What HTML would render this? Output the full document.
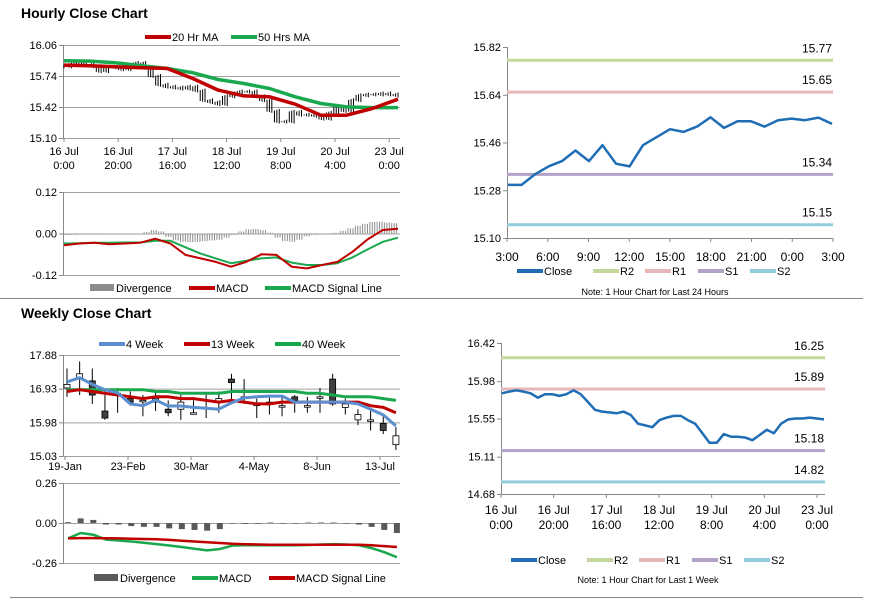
<!DOCTYPE html>
<html><head><meta charset="utf-8"><style>
body{margin:0;background:#fff;}
svg{display:block;font-family:"Liberation Sans",Arial,sans-serif;}
</style></head><body>
<svg id="s" width="873" height="601" viewBox="0 0 873 601">
<text x="21" y="18" font-size="14" font-weight="bold">Hourly Close Chart</text>
<text x="21" y="318" font-size="14" font-weight="bold">Weekly Close Chart</text>
<line x1="0" y1="298.5" x2="863" y2="298.5" stroke="#888"/>
<line x1="10" y1="597.5" x2="863" y2="597.5" stroke="#888"/>
</svg>
<script>
// ---------- data ----------
const hourlyClose=[15.84,15.86,15.875,15.86,15.84,15.79,15.83,15.83,15.81,15.83,15.875,15.83,15.74,15.65,15.63,15.62,15.61,15.63,15.59,15.49,15.47,15.45,15.53,15.56,15.58,15.58,15.53,15.49,15.38,15.27,15.27,15.37,15.34,15.34,15.33,15.30,15.36,15.42,15.38,15.49,15.54,15.55,15.55,15.56,15.55,15.54];
const ma20=[15.853,15.846,15.836,15.825,15.818,15.715,15.594,15.535,15.525,15.449,15.335,15.335,15.404,15.50];
const ma50=[15.898,15.894,15.877,15.846,15.818,15.774,15.704,15.663,15.611,15.525,15.456,15.421,15.414,15.414];
const hMacd=[-0.034,-0.029,-0.027,-0.031,-0.029,-0.027,-0.015,-0.029,-0.062,-0.072,-0.082,-0.096,-0.082,-0.060,-0.062,-0.096,-0.101,-0.091,-0.082,-0.053,-0.017,0.010,0.014];
const hSignal=[-0.029,-0.028,-0.027,-0.027,-0.026,-0.026,-0.021,-0.021,-0.040,-0.058,-0.072,-0.086,-0.079,-0.072,-0.069,-0.084,-0.091,-0.091,-0.086,-0.069,-0.046,-0.024,-0.012];
const hDiv=[-0.004,-0.004,-0.003,-0.003,-0.003,-0.003,-0.003,-0.002,-0.002,-0.002,-0.002,0.004,0.010,0.006,-0.010,-0.020,-0.024,-0.025,-0.024,-0.022,-0.020,-0.018,-0.012,-0.004,0.006,0.012,0.013,0.010,0.002,-0.012,-0.022,-0.024,-0.018,-0.008,-0.004,-0.003,-0.002,0.002,0.008,0.015,0.022,0.028,0.033,0.034,0.032,0.030];
const hourTicks=["16 Jul|0:00","16 Jul|20:00","17 Jul|16:00","18 Jul|12:00","19 Jul|8:00","20 Jul|4:00","23 Jul|0:00"];
const dayClose=[15.30,15.30,15.34,15.37,15.39,15.43,15.39,15.45,15.38,15.37,15.45,15.48,15.51,15.50,15.52,15.555,15.515,15.54,15.54,15.52,15.544,15.55,15.544,15.554,15.53];
const dayTicks=["3:00","6:00","9:00","12:00","15:00","18:00","21:00","0:00","3:00"];
const dayLevels=[15.77,15.65,15.34,15.15];
const weekLevels=[16.25,15.89,15.18,14.82];
const wOpen=[16.95,17.20,17.15,16.30,16.80,16.65,16.60,16.55,16.35,16.35,16.25,16.40,16.55,17.20,16.70,16.45,16.55,16.45,16.70,16.45,16.70,17.20,16.40,16.05,16.05,15.95,15.35];
const wClose=[17.05,17.35,16.75,16.10,16.80,16.55,16.60,16.65,16.25,16.55,16.25,16.40,16.65,17.10,16.70,16.50,16.55,16.45,16.60,16.45,16.70,16.50,16.50,16.20,16.05,15.75,15.60];
const wHigh=[17.50,17.70,17.50,16.90,16.95,16.85,16.75,16.85,16.60,16.75,16.60,16.80,16.85,17.35,17.20,16.65,16.70,16.75,16.75,16.70,16.95,17.35,16.65,16.35,16.30,16.15,15.85];
const wLow=[16.70,16.75,16.50,16.05,16.25,16.45,16.15,16.30,16.15,16.05,16.20,16.10,16.25,16.55,16.50,16.10,16.20,16.15,16.25,16.25,16.25,16.45,16.20,15.90,15.75,15.65,15.20];
const w4=[17.12,17.24,17.05,16.90,16.81,16.50,16.45,16.61,16.44,16.44,16.40,16.38,16.35,16.53,16.67,16.70,16.72,16.72,16.55,16.55,16.55,16.55,16.55,16.50,16.35,16.19,15.88];
const w13=[16.85,16.90,16.85,16.80,16.75,16.70,16.65,16.70,16.70,16.65,16.65,16.60,16.55,16.60,16.55,16.50,16.50,16.55,16.55,16.55,16.55,16.55,16.55,16.55,16.45,16.40,16.25];
const w40=[16.90,16.90,16.90,16.90,16.90,16.90,16.90,16.85,16.85,16.80,16.80,16.80,16.80,16.85,16.85,16.85,16.85,16.85,16.85,16.80,16.80,16.75,16.70,16.70,16.70,16.65,16.60];
const wDiv=[0.005,0.030,0.020,-0.010,-0.010,-0.020,-0.025,-0.025,-0.035,-0.040,-0.045,-0.050,-0.040,-0.003,-0.005,-0.005,0.003,0,0,0.003,0.003,0.003,-0.003,-0.010,-0.025,-0.045,-0.065];
const wMacd=[-0.100,-0.065,-0.076,-0.108,-0.114,-0.120,-0.128,-0.137,-0.146,-0.156,-0.167,-0.178,-0.169,-0.147,-0.145,-0.145,-0.145,-0.145,-0.145,-0.143,-0.140,-0.137,-0.140,-0.145,-0.163,-0.190,-0.222];
const wSignal=[-0.100,-0.098,-0.098,-0.099,-0.100,-0.102,-0.104,-0.106,-0.110,-0.115,-0.120,-0.125,-0.130,-0.135,-0.138,-0.140,-0.141,-0.141,-0.141,-0.141,-0.141,-0.141,-0.141,-0.142,-0.145,-0.150,-0.156];
const weekTicks=["19-Jan","23-Feb","30-Mar","4-May","8-Jun","13-Jul"];

const svg=document.getElementById('s');
const NS='http://www.w3.org/2000/svg';
function mk(tag,attrs,parent){const e=document.createElementNS(NS,tag);for(const k in attrs)e.setAttribute(k,attrs[k]);(parent||svg).appendChild(e);return e;}
function sc(d0,d1,r0,r1){return v=>r0+(v-d0)/(d1-d0)*(r1-r0);}
function txt(x,y,s,anchor,size,parent){const t=mk('text',{x:x,y:y,'font-size':size||11,'text-anchor':anchor||'start',fill:'#000'},parent);t.textContent=s;return t;}
function path(vals,xf,yf,color,w,parent){let d='';vals.forEach((v,i)=>{d+=(i?'L':'M')+xf(i).toFixed(1)+','+yf(v).toFixed(1);});return mk('path',{d:d,fill:'none',stroke:color,'stroke-width':w,'stroke-linejoin':'round'},parent);}
function yAxis(ticks,yf,x0,x1,grid,parent){
  ticks.forEach(t=>{
    if(grid){const g=mk('line',{x1:x0,x2:x1,y1:yf(t)+0.5,y2:yf(t)+0.5,stroke:'#a0a0a0'},parent);
      
      }
    mk('line',{x1:x0-4,x2:x0,y1:yf(t)+0.5,y2:yf(t)+0.5,stroke:'#888'},parent);
    const l=txt(x0-6,yf(t)+4,t.toFixed(2),'end',11,parent);
    
    
  });
}
function legendItem(x,y,color,label,parent,isBox){
  const g=mk('g',{},parent);
  
  
  if(isBox)mk('rect',{x:x,y:y-4,width:24,height:7,fill:color},g);
  else mk('line',{x1:x,x2:x+26,y1:y,y2:y,stroke:color,'stroke-width':4},g);
  txt(x+(isBox?26:27),y+4,label,'start',11,g);
}

// ---------- Hourly main chart ----------
(function(){
  const g=mk('g',{});
  
  
  const y=sc(15.10,16.06,138,45), X0=63,X1=400;
  yAxis([15.10,15.42,15.74,16.06],y,X0,X1,true,g);
  mk('line',{x1:X0+.5,x2:X0+.5,y1:45,y2:138,stroke:'#888'},g);
  const xc=i=>64+i*(334/(hourlyClose.length-1));
  hourlyClose.forEach((c,i)=>{
    const p=i?hourlyClose[i-1]:c;
    const hi=Math.max(p,c)+0.02, lo=Math.min(p,c)-0.02;
    for(let k=0;k<3;k++){
      const xx=xc(i)-k*2.4;
      if(xx<X0)continue;
      const b=mk('line',{x1:xx,x2:xx,y1:y(hi-k*0.008),y2:y(lo+k*0.006),stroke:'#000','stroke-width':1},g);
      
      
    }
  });
  const xm=i=>64+i*(334/(ma20.length-1));
  const l50=path(ma50,xm,y,'#1aa84f',3.5,g);
  
  
  const l20=path(ma20,xm,y,'#c00000',3.5,g);
  
  
  hourTicks.forEach((t,i)=>{const x=64+i*54.2;const p=t.split('|');
    mk('line',{x1:x,x2:x,y1:138,y2:142,stroke:'#888'},g);
    const a=txt(x,155,p[0],'middle',11,g);
    txt(x,169,p[1],'middle',11,g);});
  legendItem(145,37,'#c00000','20 Hr MA',g);
  legendItem(231,37,'#1aa84f','50 Hrs MA',g);
})();

// ---------- Hourly MACD ----------
(function(){
  const g=mk('g',{});
  
  
  const y=sc(-0.12,0.12,275,192), X0=63,X1=400;
  yAxis([-0.12,0,0.12],y,X0,X1,true,g);
  mk('line',{x1:X0+.5,x2:X0+.5,y1:192,y2:275,stroke:'#888'},g);
  const step=335/hDiv.length;
  hDiv.forEach((v,i)=>{for(let k=0;k<3;k++){const xx=64+i*step+k*step/3;
    const b=mk('line',{x1:xx,x2:xx,y1:y(0),y2:y(v),stroke:'#8c8c8c','stroke-width':1},g);
    
    }});
  const xm=i=>64+i*(334/(hMacd.length-1));
  const s=path(hSignal,xm,y,'#1aa84f',2,g);
  
  
  const m=path(hMacd,xm,y,'#c00000',2,g);
  
  
  legendItem(90,288,'#8c8c8c','Divergence',g,true);
  legendItem(189,288,'#c00000','MACD',g);
  legendItem(265,288,'#1aa84f','MACD Signal Line',g);
})();

// ---------- Right pivot charts ----------
function pivotChart(name,data,yMin,yMax,ticks,levels,X0,X1,Y0,Y1,xLabels,two,legY,note,noteY,labY){
  const g=mk('g',{});
  
  
  const y=sc(yMin,yMax,Y1,Y0);
  yAxis(ticks,y,X0,X1,false,g);
  mk('line',{x1:X0+.5,x2:X0+.5,y1:Y0,y2:Y1,stroke:'#888'},g);
  mk('line',{x1:X0,x2:X1,y1:Y1+.5,y2:Y1+.5,stroke:'#888'},g);
  const cols=['#c4d79b','#e6b8b7','#b3a2c7','#93cddd'];
  levels.forEach((v,i)=>{
    const l=mk('line',{x1:X0,x2:X1,y1:y(v),y2:y(v),stroke:cols[i],'stroke-width':3},g);
    
    
    const t=txt(X1-1,y(v)-8,v.toFixed(2),'end',12,g);
    
    
  });
  const xf=i=>X0+1+i*((X1-X0-2)/(data.length-1));
  const c=path(data,xf,y,'#1f6db4',2.5,g);
  
  
  xLabels.forEach((t,i)=>{const x=X0+i*((two?(X1-X0-8):(X1-X0))/(xLabels.length-1));
    mk('line',{x1:x,x2:x,y1:Y1,y2:Y1+4,stroke:'#888'},g);
    const p=t.split('|');
    const a=txt(x,labY,p[0],'middle',12,g);
    if(p[1])txt(x,labY+15,p[1],'middle',12,g);});
  legendItem(X0+10,legY,'#1f6db4','Close',g);
  legendItem(X0+86,legY,'#c4d79b','R2',g);
  legendItem(X0+138,legY,'#e6b8b7','R1',g);
  legendItem(X0+191,legY,'#b3a2c7','S1',g);
  legendItem(X0+243,legY,'#93cddd','S2',g);
  const n=txt((X0+X1)/2-15,noteY,note,'middle',9,g);
  
  
}
pivotChart('hourly-pivot-chart',dayClose,15.10,15.82,[15.10,15.28,15.46,15.64,15.82],dayLevels,507,833,47,238,dayTicks,false,271,'Note: 1 Hour Chart for Last 24 Hours',295,261);
pivotChart('weekly-pivot-chart',hourlyClose,14.68,16.42,[14.68,15.11,15.55,15.98,16.42],weekLevels,501,825,343,494,hourTicks,true,560,'Note: 1 Hour Chart for Last 1 Week',583,514);

// ---------- Weekly candle chart ----------
(function(){
  const g=mk('g',{});
  
  
  const y=sc(15.03,17.88,456,355), X0=63,X1=400;
  yAxis([15.03,15.98,16.93,17.88],y,X0,X1,true,g);
  mk('line',{x1:X0+.5,x2:X0+.5,y1:355,y2:456,stroke:'#888'},g);
  const xf=i=>67+i*12.65;
  wOpen.forEach((o,i)=>{
    const c=wClose[i],x=xf(i);
    const w=mk('line',{x1:x,x2:x,y1:y(wHigh[i]),y2:y(wLow[i]),stroke:'#000'},g);
    
    
    const top=y(Math.max(o,c)),h=Math.max(1.5,y(Math.min(o,c))-top);
    const r=mk('rect',{x:x-3,y:top,width:6,height:h,fill:c>=o?'#fff':'#404040',stroke:'#000','stroke-width':0.8},g);
    
    
  });
  const l40=path(w40,xf,y,'#1aa84f',3,g);
  
  
  const l13=path(w13,xf,y,'#c00000',3,g);
  
  
  const l4=path(w4,xf,y,'#5b8fd0',3,g);
  
  
  weekTicks.forEach((t,i)=>{const x=65+i*63;
    mk('line',{x1:x,x2:x,y1:456,y2:460,stroke:'#888'},g);
    const a=txt(x,470,t,'middle',11,g);});
  legendItem(99,344,'#5b8fd0','4 Week',g);
  legendItem(184,344,'#c00000','13 Week',g);
  legendItem(275,344,'#1aa84f','40 Week',g);
})();

// ---------- Weekly MACD ----------
(function(){
  const g=mk('g',{});
  
  
  const y=sc(-0.26,0.26,563,483), X0=63,X1=400;
  yAxis([-0.26,0,0.26],y,X0,X1,true,g);
  mk('line',{x1:X0+.5,x2:X0+.5,y1:483,y2:563,stroke:'#888'},g);
  const xf=i=>68+i*12.65;
  wDiv.forEach((v,i)=>{
    const b=mk('rect',{x:xf(i)-3,y:Math.min(y(0),y(v)),width:6,height:Math.max(0.5,Math.abs(y(v)-y(0))),fill:'#595959'},g);
    
    
  });
  const m=path(wMacd,xf,y,'#1aa84f',2.5,g);
  
  
  const s=path(wSignal,xf,y,'#c00000',2.5,g);
  
  
  legendItem(94,578,'#595959','Divergence',g,true);
  legendItem(192,578,'#1aa84f','MACD',g);
  legendItem(269,578,'#c00000','MACD Signal Line',g);
})();
</script>
</body></html>
